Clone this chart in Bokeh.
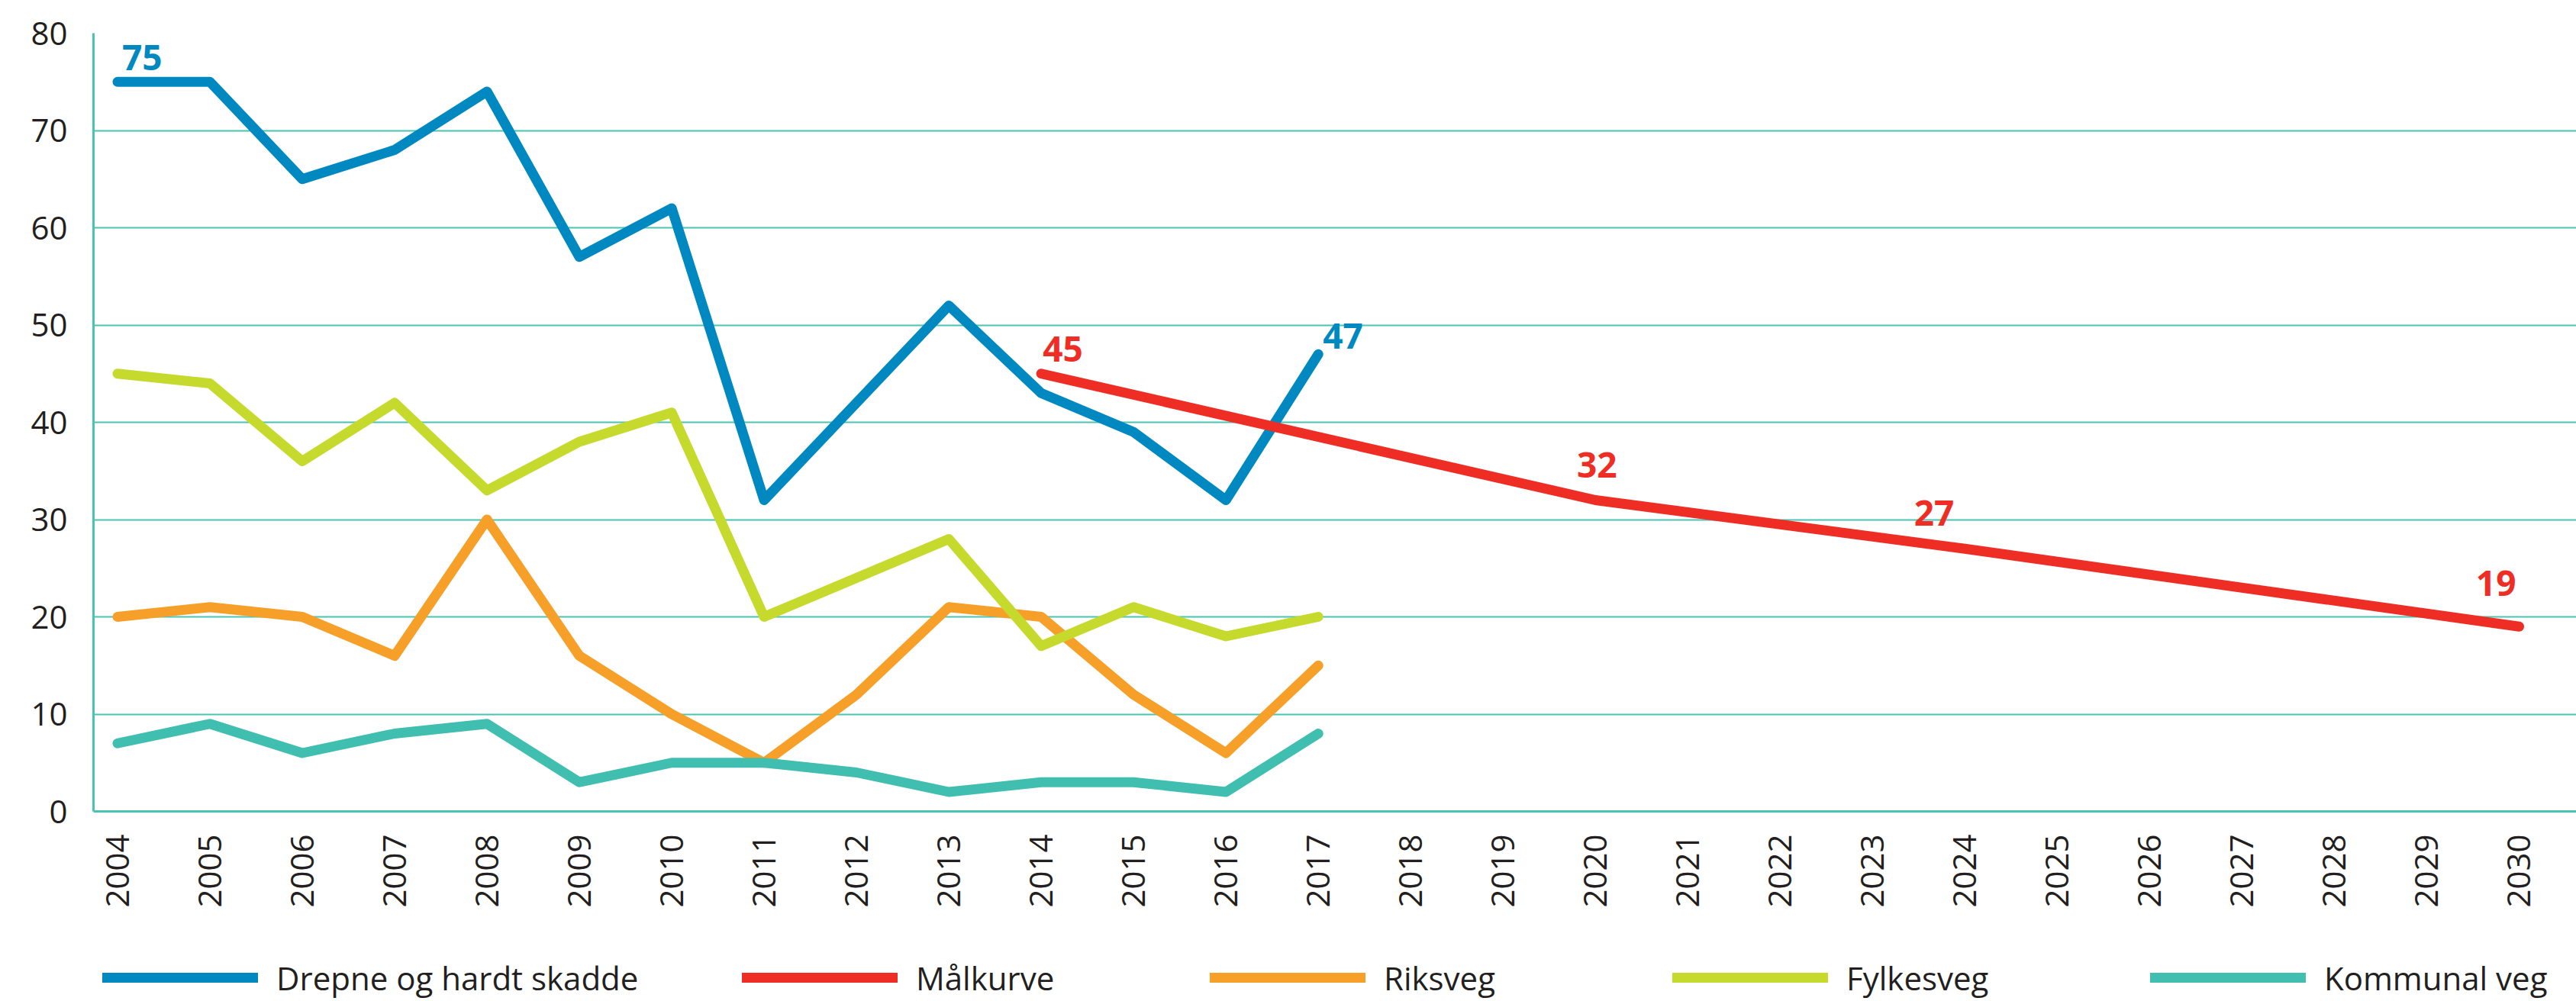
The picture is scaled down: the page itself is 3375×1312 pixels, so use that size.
import math
from bokeh.plotting import figure
from bokeh.layouts import column
from bokeh.models import Range1d, FixedTicker, Legend, LegendItem, ColumnDataSource
from bokeh.core.properties import value
from bokeh.embed import file_html
from bokeh.resources import INLINE

years = [2004, 2005, 2006, 2007, 2008, 2009, 2010, 2011, 2012, 2013, 2014, 2015, 2016, 2017]
drepne = [75, 75, 65, 68, 74, 57, 62, 32, 42, 52, 43, 39, 32, 47]
fylkesveg = [45, 44, 36, 42, 33, 38, 41, 20, 24, 28, 17, 21, 18, 20]
riksveg = [20, 21, 20, 16, 30, 16, 10, 5, 12, 21, 20, 12, 6, 15]
kommunal = [7, 9, 6, 8, 9, 3, 5, 5, 4, 2, 3, 3, 2, 8]

mal_years = [2014, 2020, 2024, 2030]
malkurve = [45, 32, 27, 19]

tick_years = list(range(2004, 2031))
y_ticks = [0, 10, 20, 30, 40, 50, 60, 70, 80]

names = ["Drepne og hardt skadde", "Målkurve", "Riksveg", "Fylkesveg", "Kommunal veg"]

BLUE = "#0089C1"
RED = "#EE2E24"
ORANGE = "#F69F29"
LIME = "#C6D92D"
TEAL = "#40BFB0"
GRID = "#4BC3B3"
TXT = "#231F20"
FONT = "Open Sans"
LW = 13

series = [(years, drepne, BLUE), (mal_years, malkurve, RED), (years, riksveg, ORANGE),
          (years, fylkesveg, LIME), (years, kommunal, TEAL)]

# ---------------- main chart ----------------
p = figure(width=3375, height=1210, output_backend="svg", toolbar_location=None,
           x_range=Range1d(2003.74, 2030.62), y_range=Range1d(0, 80),
           min_border_left=122, min_border_right=0, min_border_top=43, min_border_bottom=147)
p.outline_line_color = None
p.background_fill_color = "white"
p.border_fill_color = "white"

p.xgrid.grid_line_color = None
p.ygrid.grid_line_color = GRID
p.ygrid.grid_line_width = 2
p.ygrid.ticker = FixedTicker(ticks=y_ticks)

p.xaxis.ticker = FixedTicker(ticks=tick_years)
p.xaxis.major_label_overrides = {y: str(y) for y in tick_years}
p.xaxis.major_label_orientation = math.pi / 2
p.yaxis.ticker = FixedTicker(ticks=y_ticks)
for ax in (p.xaxis, p.yaxis):
    ax.axis_line_color = GRID
    ax.axis_line_width = 3
    ax.major_tick_line_color = None
    ax.minor_tick_line_color = None
    ax.major_label_text_font = FONT
    ax.major_label_text_font_size = "42px"
    ax.major_label_text_color = TXT
p.xaxis.major_label_standoff = 24
p.yaxis.major_label_standoff = 28

for xs, ys, c in series:
    p.line(xs, ys, line_color=c, line_width=LW, line_cap="round", line_join="round")

# value annotations
blue_idx = [0, len(years) - 1]
blue_src = ColumnDataSource(dict(x=[years[i] for i in blue_idx], y=[drepne[i] for i in blue_idx],
                                 t=[str(drepne[i]) for i in blue_idx],
                                 xo=[6, 6], yo=[-32, -24]))
p.text(x="x", y="y", text="t", source=blue_src, text_color=BLUE, text_font=value(FONT),
       text_font_style="bold", text_font_size="46px", x_offset="xo", y_offset="yo",
       text_align="left", text_baseline="alphabetic")

red_src = ColumnDataSource(dict(x=mal_years, y=malkurve, t=[str(v) for v in malkurve],
                                xo=[2, 2, -14, -4], yo=[-32, -46, -47, -57],
                                al=["left", "center", "right", "right"]))
p.text(x="x", y="y", text="t", source=red_src, text_color=RED, text_font=value(FONT),
       text_font_style="bold", text_font_size="46px", x_offset="xo", y_offset="yo",
       text_align="al", text_baseline="alphabetic")

# ---------------- legend strip ----------------
lg = figure(width=3375, height=102, output_backend="svg", toolbar_location=None,
            x_range=Range1d(0, 1), y_range=Range1d(0, 1),
            x_axis_location=None, y_axis_location=None,
            min_border_left=0, min_border_right=0, min_border_top=0, min_border_bottom=0)
lg.outline_line_color = None
lg.xgrid.grid_line_color = None
lg.ygrid.grid_line_color = None
lg_renderers = [lg.line(xs, ys, line_color=c, line_width=LW, line_cap="round")
                for xs, ys, c in series]

leg_x = [12, 850, 1463, 2069, 2695]
for name, r, lx in zip(names, lg_renderers, leg_x):
    L = Legend(items=[LegendItem(label=name, renderers=[r])], location=(lx, 1),
               orientation="horizontal", glyph_width=204, glyph_height=60, label_height=60,
               label_standoff=24, padding=0, margin=0, spacing=0,
               label_text_font=FONT, label_text_font_size="42px", label_text_color=TXT,
               background_fill_alpha=0, border_line_color=None)
    lg.add_layout(L, "center")

layout = column(p, lg, spacing=0)
open("out.html", "w").write(file_html(layout, INLINE))
